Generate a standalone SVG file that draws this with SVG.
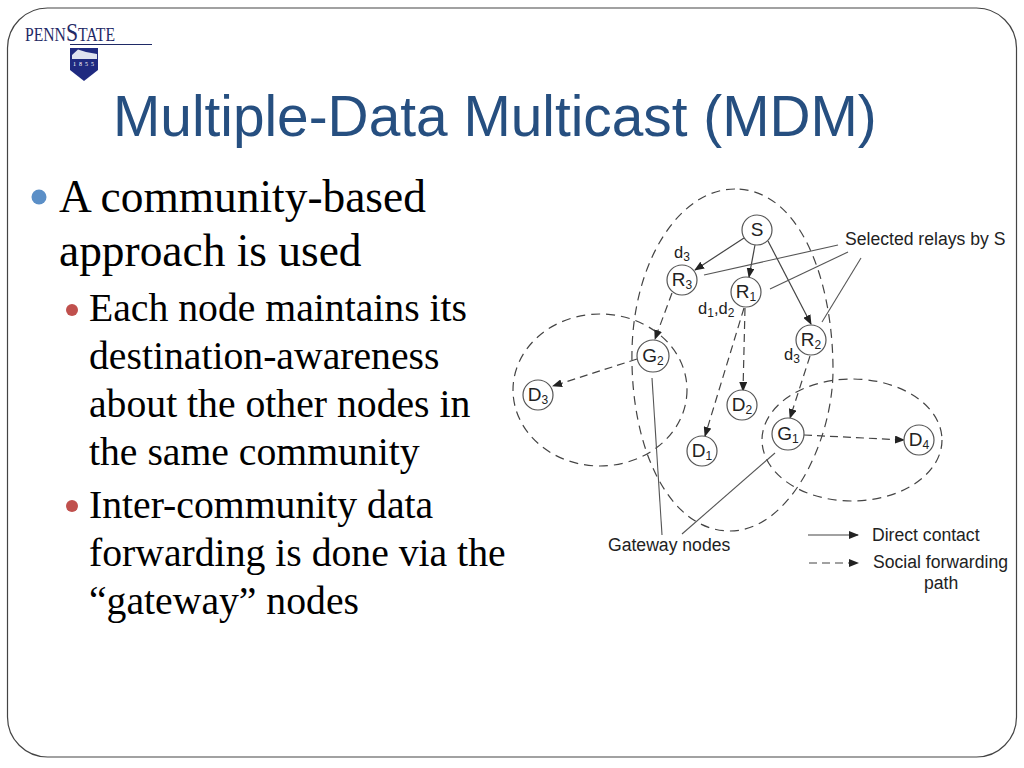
<svg xmlns="http://www.w3.org/2000/svg" width="1024" height="768" viewBox="0 0 1024 768">
<style>
.ser{font-family:"Liberation Serif","Times New Roman",serif;fill:#000}
.l1{font-size:45.400px}
.l2{font-size:39.700px}
.dia{font-family:"Liberation Sans",Arial,sans-serif;fill:#222;font-size:17.600px}
.dl{font-size:16.500px}
.nl{font-size:19px;text-anchor:middle}
.sub{font-size:12px}
.node circle{fill:#fff;stroke:#555;stroke-width:1.2}
.comm{fill:none;stroke:#444;stroke-width:1.2;stroke-dasharray:9 6}
.d{fill:none;stroke:#444;stroke-width:1.2;stroke-dasharray:8 5;marker-end:url(#a)}
.s{fill:none;stroke:#444;stroke-width:1.2;marker-end:url(#a)}
.p{fill:none;stroke:#555;stroke-width:1.1}
</style>
<defs>
<marker id="a" markerWidth="10" markerHeight="8" refX="9" refY="4" orient="auto" markerUnits="userSpaceOnUse"><path d="M0,0L10,4L0,8z" fill="#222"/></marker>
</defs>
<rect width="1024" height="768" fill="#fff"/>
<rect x="7.500" y="8" width="1009" height="749" rx="40" ry="40" fill="#fff" stroke="#444" stroke-width="1.2"/>
<g id="logo">
<text x="25" y="41" font-family="Liberation Serif,serif" font-size="18" fill="#1f2a66" textLength="90" lengthAdjust="spacingAndGlyphs">PENN<tspan font-size="25">S</tspan>TATE</text>
<line x1="70" y1="44.500" x2="152" y2="44.500" stroke="#1f2a66" stroke-width="1"/>
<path d="M70,48H98V70L84,81L70,70z" fill="#1f2a80"/>
<path d="M72,55L78,49.500L86,52L97,54V59H72z" fill="#dfe3f0"/>
<text x="85" y="66" font-family="Liberation Serif,serif" font-size="6" fill="#fff" text-anchor="middle" letter-spacing="3">1855</text>
</g>
<text x="113" y="136" font-family="Liberation Sans,Arial,sans-serif" font-size="56.800" fill="#264f80">Multiple-Data Multicast (MDM)</text>
<g id="bullets">
<circle cx="39" cy="197" r="7.500" fill="#5b8fc7"/>
<text class="ser l1" x="59" y="212">A community-based</text>
<text class="ser l1" x="59" y="266">approach is used</text>
<circle cx="72" cy="310" r="6" fill="#c0504d"/>
<text class="ser l2" x="89" y="321">Each node maintains its</text>
<text class="ser l2" x="89" y="369">destination-awareness</text>
<text class="ser l2" x="89" y="417">about the other nodes in</text>
<text class="ser l2" x="89" y="465">the same community</text>
<circle cx="72" cy="506" r="6" fill="#c0504d"/>
<text class="ser l2" x="89" y="518">Inter-community data</text>
<text class="ser l2" x="89" y="566">forwarding is done via the</text>
<text class="ser l2" x="89" y="614">“gateway” nodes</text>
</g>
<g id="communities">
<path class="comm" d="M735,189C680,189 634,260 632,350C630,450 670,531 730,531C790,531 833,440 833,370C833,280 800,189 735,189z"/>
<ellipse class="comm" cx="600" cy="390" rx="87" ry="76"/>
<ellipse class="comm" cx="852" cy="440" rx="90" ry="61"/>
</g>
<g id="connectors">
<line class="s" x1="744" y1="238" x2="695" y2="270"/>
<line class="s" x1="755" y1="245" x2="749" y2="277"/>
<line class="s" x1="768" y1="241" x2="811" y2="324"/>
<line class="d" x1="672" y1="293" x2="655" y2="339"/>
<line class="d" x1="637" y1="359" x2="553" y2="386"/>
<line class="d" x1="745" y1="308" x2="743" y2="391"/>
<line class="d" x1="744" y1="308" x2="705" y2="436"/>
<line class="d" x1="810" y1="356" x2="790" y2="418"/>
<line class="d" x1="804" y1="435" x2="904" y2="440"/>
<line class="p" x1="704" y1="275" x2="838" y2="245"/>
<line class="p" x1="770" y1="289" x2="848" y2="252"/>
<line class="p" x1="822" y1="322" x2="861" y2="258"/>
<line class="p" x1="652" y1="378" x2="662" y2="535"/>
<line class="p" x1="775" y1="453" x2="682" y2="534"/>
<line class="s" x1="808" y1="535" x2="858" y2="535"/>
<line class="d" x1="809" y1="563" x2="858" y2="563"/>
</g>
<g id="S" class="node"><circle cx="757" cy="230" r="15"/><text class="dia nl" x="757" y="236">S</text></g>
<g id="R3" class="node"><circle cx="682" cy="280" r="15"/><text class="dia nl" x="682" y="286">R<tspan class="sub" dy="3">3</tspan></text></g>
<g id="R1" class="node"><circle cx="746" cy="292" r="15"/><text class="dia nl" x="746" y="298">R<tspan class="sub" dy="3">1</tspan></text></g>
<g id="R2" class="node"><circle cx="811" cy="340" r="15"/><text class="dia nl" x="811" y="346">R<tspan class="sub" dy="3">2</tspan></text></g>
<g id="G2" class="node"><circle cx="653" cy="356" r="16"/><text class="dia nl" x="653" y="362">G<tspan class="sub" dy="3">2</tspan></text></g>
<g id="D3" class="node"><circle cx="538" cy="395" r="15"/><text class="dia nl" x="538" y="401">D<tspan class="sub" dy="3">3</tspan></text></g>
<g id="D2" class="node"><circle cx="742" cy="405" r="15"/><text class="dia nl" x="742" y="411">D<tspan class="sub" dy="3">2</tspan></text></g>
<g id="D1" class="node"><circle cx="702" cy="451" r="15"/><text class="dia nl" x="702" y="457">D<tspan class="sub" dy="3">1</tspan></text></g>
<g id="G1" class="node"><circle cx="788" cy="434" r="16"/><text class="dia nl" x="788" y="440">G<tspan class="sub" dy="3">1</tspan></text></g>
<g id="D4" class="node"><circle cx="919" cy="440" r="15"/><text class="dia nl" x="919" y="446">D<tspan class="sub" dy="3">4</tspan></text></g>
<g id="labels">
<text class="dia dl" x="674" y="258">d<tspan class="sub" dy="3">3</tspan></text>
<text class="dia dl" x="698" y="314">d<tspan class="sub" dy="3">1</tspan><tspan dy="-3">,d</tspan><tspan class="sub" dy="3">2</tspan></text>
<text class="dia dl" x="784" y="360">d<tspan class="sub" dy="3">3</tspan></text>
<text class="dia" x="845" y="245">Selected relays by S</text>
<text class="dia" x="608" y="551">Gateway nodes</text>
<text class="dia" x="872" y="541">Direct contact</text>
<text class="dia" x="873" y="568">Social forwarding</text>
<text class="dia" x="924" y="589">path</text>
</g>
</svg>
